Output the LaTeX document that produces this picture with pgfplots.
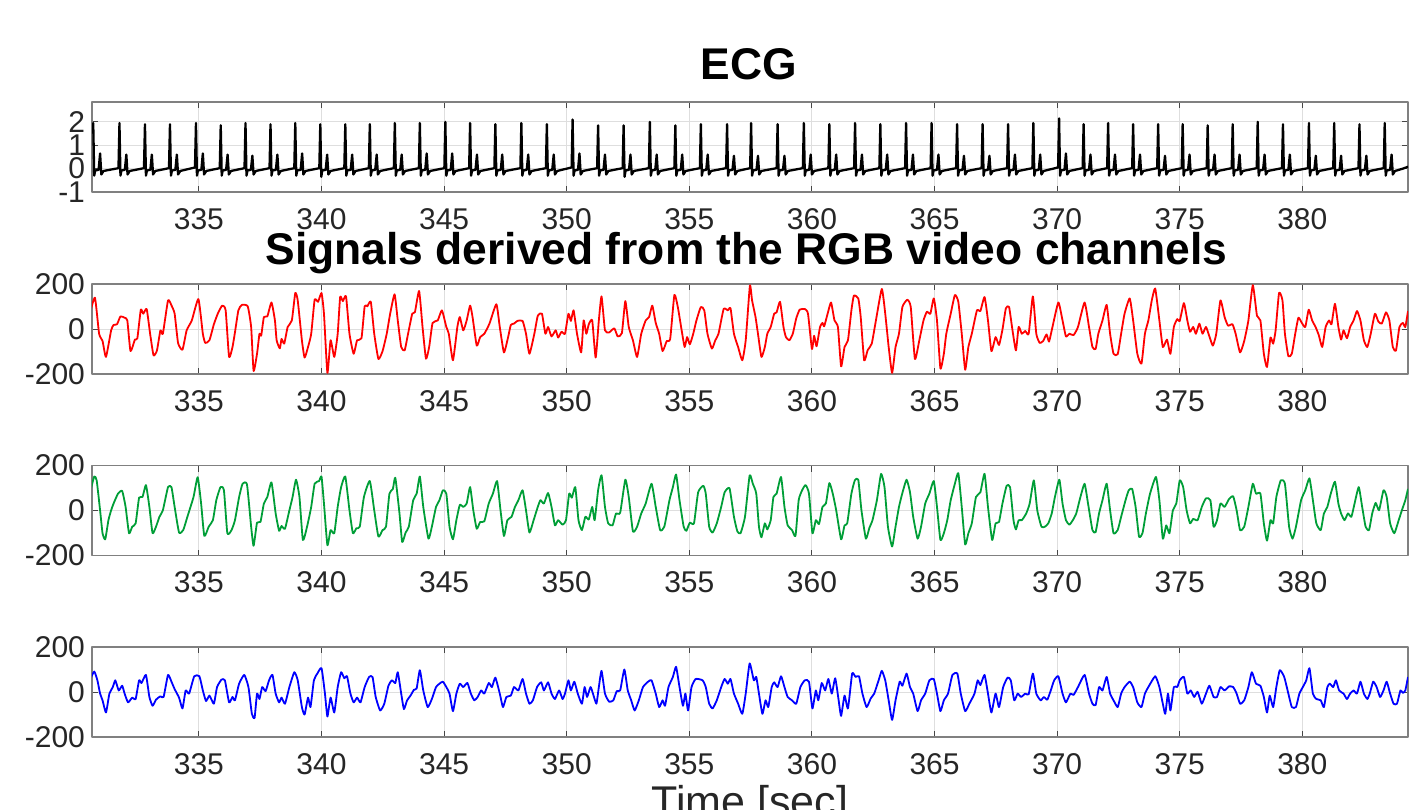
\documentclass[border=0pt]{standalone}
\usepackage{pgfplots}
\pgfplotsset{compat=1.18}
\usepackage{fontspec}
\setmainfont{Liberation Sans}
\definecolor{axgray}{RGB}{128,128,128}
\definecolor{tkgray}{RGB}{70,70,70}
\definecolor{grd}{RGB}{222,222,222}
\definecolor{lbl}{RGB}{38,38,38}
\definecolor{mgreen}{RGB}{0,158,55}
\pgfplotsset{panel/.style={
  scale only axis, width=658pt, height=45pt,
  xmin=330.64, xmax=384.31,
  xtick={335,340,345,350,355,360,365,370,375,380},
  axis line style={draw=axgray, line width=0.6pt},
  tick style={draw=tkgray, line width=0.5pt},
  major tick length=3pt,
  tick align=inside,
  xmajorgrids, ymajorgrids,
  major grid style={draw=grd, line width=0.5pt},
  ticklabel style={font=\fontsize{15}{18}\selectfont, text=lbl},
  /pgf/number format/assume math mode=true,
  xticklabel style={yshift=-4.5pt},
  anchor=north west,
  line join=round,
}}
\begin{document}
\begin{tikzpicture}[x=1pt,y=1pt]
\useasboundingbox (0,0) rectangle (706,-404.5);
% ECG
\begin{axis}[panel, at={(46pt,-51pt)}, ymin=-1, ymax=2.85, ytick={-1,0,1,2}]
\addplot[black, line width=1.15pt] coordinates {
(330.64,1.5)(330.69,1.95)(330.73,-0.3)(330.77,-0.08)(330.91,-0.05)(330.97,0.65)(331.02,-0.25)(331.11,-0.1)
(331.72,0.02)(331.76,1.95)(331.80,-0.3)(331.84,-0.08)(331.98,-0.05)(332.04,0.6)(332.09,-0.25)(332.18,-0.1)
(332.76,0.02)(332.80,1.9)(332.84,-0.3)(332.88,-0.08)(333.02,-0.05)(333.08,0.6)(333.13,-0.25)(333.22,-0.1)
(333.78,0.02)(333.82,1.9)(333.86,-0.3)(333.90,-0.08)(334.04,-0.05)(334.10,0.6)(334.15,-0.25)(334.24,-0.1)
(334.84,0.05)(334.88,1.95)(334.92,-0.3)(334.96,-0.08)(335.10,-0.05)(335.16,0.65)(335.21,-0.25)(335.30,-0.1)
(335.85,0.02)(335.89,1.85)(335.93,-0.3)(335.97,-0.08)(336.11,-0.05)(336.17,0.6)(336.22,-0.25)(336.31,-0.1)
(336.86,0.02)(336.90,1.95)(336.94,-0.3)(336.98,-0.08)(337.12,-0.05)(337.18,0.55)(337.23,-0.25)(337.32,-0.1)
(337.88,0.02)(337.92,1.9)(337.96,-0.3)(338.00,-0.08)(338.14,-0.05)(338.20,0.6)(338.25,-0.25)(338.34,-0.1)
(338.89,0.02)(338.93,1.95)(338.97,-0.3)(339.01,-0.08)(339.15,-0.05)(339.21,0.65)(339.26,-0.25)(339.35,-0.1)
(339.91,0.02)(339.95,1.9)(339.99,-0.35)(340.03,-0.08)(340.17,-0.05)(340.23,0.6)(340.28,-0.25)(340.37,-0.1)
(340.93,0.02)(340.97,1.9)(341.01,-0.3)(341.05,-0.08)(341.19,-0.05)(341.25,0.6)(341.30,-0.25)(341.39,-0.1)
(341.93,0.02)(341.97,1.9)(342.01,-0.3)(342.05,-0.08)(342.19,-0.05)(342.25,0.6)(342.30,-0.25)(342.39,-0.1)
(342.95,0.02)(342.99,1.95)(343.03,-0.3)(343.07,-0.08)(343.21,-0.05)(343.27,0.6)(343.32,-0.25)(343.41,-0.1)
(343.97,0.02)(344.01,1.95)(344.05,-0.3)(344.09,-0.08)(344.23,-0.05)(344.29,0.65)(344.34,-0.25)(344.43,-0.1)
(345.01,0.02)(345.05,2.0)(345.09,-0.3)(345.13,-0.08)(345.27,-0.05)(345.33,0.65)(345.38,-0.25)(345.47,-0.1)
(346.02,0.02)(346.06,1.95)(346.10,-0.3)(346.14,-0.08)(346.28,-0.05)(346.34,0.6)(346.39,-0.25)(346.48,-0.1)
(347.05,0.02)(347.09,1.9)(347.13,-0.3)(347.17,-0.08)(347.31,-0.05)(347.37,0.6)(347.42,-0.25)(347.51,-0.1)
(348.11,0.02)(348.15,1.95)(348.19,-0.3)(348.23,-0.08)(348.37,-0.05)(348.43,0.6)(348.48,-0.25)(348.57,-0.1)
(349.15,0.02)(349.19,1.9)(349.23,-0.3)(349.27,-0.08)(349.41,-0.05)(349.47,0.6)(349.52,-0.25)(349.61,-0.1)
(350.20,0.05)(350.24,2.1)(350.28,-0.3)(350.32,-0.08)(350.46,-0.05)(350.52,0.65)(350.57,-0.25)(350.66,-0.1)
(351.24,0.02)(351.28,1.85)(351.32,-0.3)(351.36,-0.08)(351.50,-0.05)(351.56,0.6)(351.61,-0.25)(351.70,-0.1)
(352.28,0.02)(352.32,1.85)(352.36,-0.35)(352.40,-0.08)(352.54,-0.05)(352.60,0.6)(352.65,-0.25)(352.74,-0.1)
(353.35,0.02)(353.39,2.0)(353.43,-0.3)(353.47,-0.08)(353.61,-0.05)(353.67,0.6)(353.72,-0.25)(353.81,-0.1)
(354.39,0.02)(354.43,1.85)(354.47,-0.3)(354.51,-0.08)(354.65,-0.05)(354.71,0.6)(354.76,-0.25)(354.85,-0.1)
(355.43,0.02)(355.47,1.9)(355.51,-0.3)(355.55,-0.08)(355.69,-0.05)(355.75,0.6)(355.80,-0.25)(355.89,-0.1)
(356.50,0.02)(356.54,1.9)(356.58,-0.3)(356.62,-0.08)(356.76,-0.05)(356.82,0.55)(356.87,-0.25)(356.96,-0.1)
(357.48,0.02)(357.52,1.95)(357.56,-0.3)(357.60,-0.08)(357.74,-0.05)(357.80,0.55)(357.85,-0.25)(357.94,-0.1)
(358.56,0.02)(358.60,1.9)(358.64,-0.3)(358.68,-0.08)(358.82,-0.05)(358.88,0.55)(358.93,-0.25)(359.02,-0.1)
(359.63,0.02)(359.67,1.95)(359.71,-0.3)(359.75,-0.08)(359.89,-0.05)(359.95,0.6)(360.00,-0.25)(360.09,-0.1)
(360.67,0.02)(360.71,1.9)(360.75,-0.3)(360.79,-0.08)(360.93,-0.05)(360.99,0.6)(361.04,-0.25)(361.13,-0.1)
(361.72,0.02)(361.76,1.95)(361.80,-0.3)(361.84,-0.08)(361.98,-0.05)(362.04,0.6)(362.09,-0.25)(362.18,-0.1)
(362.75,0.02)(362.79,1.9)(362.83,-0.3)(362.87,-0.08)(363.01,-0.05)(363.07,0.6)(363.12,-0.25)(363.21,-0.1)
(363.80,0.02)(363.84,1.95)(363.88,-0.3)(363.92,-0.08)(364.06,-0.05)(364.12,0.6)(364.17,-0.25)(364.26,-0.1)
(364.84,0.02)(364.88,1.95)(364.92,-0.3)(364.96,-0.08)(365.10,-0.05)(365.16,0.6)(365.21,-0.25)(365.30,-0.1)
(365.88,0.02)(365.92,1.9)(365.96,-0.3)(366.00,-0.08)(366.14,-0.05)(366.20,0.55)(366.25,-0.25)(366.34,-0.1)
(366.92,0.02)(366.96,1.9)(367.00,-0.3)(367.04,-0.08)(367.18,-0.05)(367.24,0.55)(367.29,-0.25)(367.38,-0.1)
(367.96,0.02)(368.00,1.9)(368.04,-0.3)(368.08,-0.08)(368.22,-0.05)(368.28,0.6)(368.33,-0.25)(368.42,-0.1)
(368.99,0.02)(369.03,1.95)(369.07,-0.3)(369.11,-0.08)(369.25,-0.05)(369.31,0.6)(369.36,-0.25)(369.45,-0.1)
(370.04,0.05)(370.08,2.15)(370.12,-0.3)(370.16,-0.08)(370.30,-0.05)(370.36,0.65)(370.41,-0.25)(370.50,-0.1)
(371.04,0.02)(371.08,1.9)(371.12,-0.3)(371.16,-0.08)(371.30,-0.05)(371.36,0.6)(371.41,-0.25)(371.50,-0.1)
(372.04,0.02)(372.08,1.95)(372.12,-0.3)(372.16,-0.08)(372.30,-0.05)(372.36,0.6)(372.41,-0.25)(372.50,-0.1)
(373.06,0.02)(373.10,1.9)(373.14,-0.3)(373.18,-0.08)(373.32,-0.05)(373.38,0.6)(373.43,-0.25)(373.52,-0.1)
(374.08,0.02)(374.12,1.9)(374.16,-0.3)(374.20,-0.08)(374.34,-0.05)(374.40,0.55)(374.45,-0.25)(374.54,-0.1)
(375.08,0.02)(375.12,1.9)(375.16,-0.3)(375.20,-0.08)(375.34,-0.05)(375.40,0.6)(375.45,-0.25)(375.54,-0.1)
(376.10,0.02)(376.14,1.85)(376.18,-0.3)(376.22,-0.08)(376.36,-0.05)(376.42,0.6)(376.47,-0.25)(376.56,-0.1)
(377.12,0.02)(377.16,1.9)(377.20,-0.3)(377.24,-0.08)(377.38,-0.05)(377.44,0.6)(377.49,-0.25)(377.58,-0.1)
(378.14,0.02)(378.18,2.0)(378.22,-0.3)(378.26,-0.08)(378.40,-0.05)(378.46,0.6)(378.51,-0.25)(378.60,-0.1)
(379.17,0.02)(379.21,1.9)(379.25,-0.3)(379.29,-0.08)(379.43,-0.05)(379.49,0.6)(379.54,-0.25)(379.63,-0.1)
(380.23,0.02)(380.27,1.95)(380.31,-0.3)(380.35,-0.08)(380.49,-0.05)(380.55,0.55)(380.60,-0.25)(380.69,-0.1)
(381.26,0.02)(381.30,1.95)(381.34,-0.3)(381.38,-0.08)(381.52,-0.05)(381.58,0.55)(381.63,-0.25)(381.72,-0.1)
(382.29,0.02)(382.33,1.9)(382.37,-0.3)(382.41,-0.08)(382.55,-0.05)(382.61,0.55)(382.66,-0.25)(382.75,-0.1)
(383.32,0.02)(383.36,1.95)(383.40,-0.3)(383.44,-0.08)(383.58,-0.05)(383.64,0.6)(383.69,-0.25)(383.78,-0.1)
(384.10,0.0)(384.31,0.08)
};
\end{axis}
% RED
\begin{axis}[panel, at={(46pt,-142pt)}, ymin=-200, ymax=200, ytick={-200,0,200}]
\addplot[red, line width=0.9pt, smooth, tension=0.3] coordinates {
(330.55,68)(330.76,139)(330.93,-21)(331.07,-53)(331.21,-124)(331.42,-6)(331.52,18)(331.66,21)(331.80,56)(331.97,50)(332.08,38)(332.21,-98)(332.39,-47)(332.49,-41)(332.63,86)(332.73,68)(332.87,89)(333.01,-21)(333.15,-117)(333.29,-95)(333.43,-6)(333.53,-21)(333.74,127)(333.88,105)(334.01,68)(334.15,-62)(334.33,-92)(334.50,-6)(334.71,38)(334.98,133)(335.16,-21)(335.26,-62)(335.43,-50)(335.61,21)(335.78,71)(335.95,104)(336.09,83)(336.23,-124)(336.37,-80)(336.47,-15)(336.61,83)(336.75,107)(336.99,101)(337.13,9)(337.23,-186)(337.37,-110)(337.47,-21)(337.54,-30)(337.65,53)(337.79,56)(337.96,118)(338.10,38)(338.17,-50)(338.30,-86)(338.37,-44)(338.48,-65)(338.62,9)(338.79,38)(338.93,160)(339.03,127)(339.20,-50)(339.31,-127)(339.45,-80)(339.58,-21)(339.72,130)(339.86,121)(340.00,160)(340.10,68)(340.24,-195)(340.37,-50)(340.52,-124)(340.66,-21)(340.76,142)(340.87,124)(341.00,145)(341.14,-21)(341.31,-110)(341.45,-50)(341.63,-41)(341.76,101)(341.87,101)(342.01,121)(342.15,-21)(342.32,-133)(342.49,-98)(342.66,-21)(342.80,68)(342.98,154)(343.11,38)(343.25,-80)(343.39,-95)(343.53,-21)(343.70,68)(343.81,75)(343.98,169)(344.12,9)(344.26,-132)(344.39,-80)(344.53,27)(344.74,38)(344.91,83)(345.09,9)(345.19,-21)(345.36,-139)(345.54,9)(345.64,53)(345.78,-6)(345.92,38)(346.06,104)(346.16,53)(346.33,-74)(346.47,-36)(346.64,-21)(346.85,24)(347.13,110)(347.27,9)(347.44,-104)(347.61,-36)(347.72,18)(347.85,24)(347.99,36)(348.20,36)(348.34,-21)(348.48,-110)(348.68,-21)(348.82,59)(348.99,68)(349.13,-21)(349.24,9)(349.38,-33)(349.55,-6)(349.65,-38)(349.79,-12)(349.93,-21)(350.07,68)(350.17,36)(350.28,83)(350.42,-21)(350.59,-104)(350.69,38)(350.80,-21)(350.90,21)(351.04,38)(351.18,-127)(351.31,38)(351.42,145)(351.56,-6)(351.73,-15)(351.94,3)(352.08,-33)(352.25,-18)(352.39,124)(352.53,9)(352.70,-50)(352.87,-124)(353.04,-21)(353.22,38)(353.36,53)(353.49,104)(353.63,27)(353.77,-21)(353.91,-98)(354.08,-53)(354.22,-44)(354.39,151)(354.53,98)(354.71,-21)(354.81,-80)(354.91,-36)(355.02,-68)(355.16,-21)(355.29,38)(355.47,98)(355.61,83)(355.74,-21)(355.92,-87)(356.06,-50)(356.19,-21)(356.40,89)(356.57,83)(356.68,92)(356.82,-21)(356.99,-80)(357.16,-139)(357.30,-50)(357.47,192)(357.56,127)(357.70,53)(357.80,-21)(357.94,-124)(358.08,-80)(358.18,-21)(358.32,9)(358.46,68)(358.56,74)(358.70,121)(358.84,9)(358.94,-36)(359.08,-50)(359.22,-21)(359.36,47)(359.50,86)(359.71,89)(359.84,68)(360.00,-89)(360.09,-30)(360.19,-77)(360.33,9)(360.43,27)(360.50,12)(360.64,68)(360.78,118)(360.92,38)(361.06,9)(361.19,-166)(361.33,-80)(361.47,-50)(361.61,83)(361.71,148)(361.89,136)(361.99,53)(362.13,-139)(362.27,-95)(362.44,-65)(362.61,38)(362.85,178)(362.99,68)(363.13,-80)(363.27,-195)(363.41,-80)(363.55,-21)(363.69,98)(363.89,130)(364.03,98)(364.20,-133)(364.38,-50)(364.55,38)(364.69,77)(364.83,68)(364.97,136)(365.10,38)(365.24,-175)(365.38,-110)(365.48,-21)(365.66,68)(365.83,151)(365.97,121)(366.11,-21)(366.25,-181)(366.38,-80)(366.52,-21)(366.73,83)(366.87,80)(367.04,142)(367.18,38)(367.32,-98)(367.49,-36)(367.63,-71)(367.77,-3)(367.91,92)(368.04,98)(368.18,-6)(368.32,-95)(368.43,9)(368.56,-21)(368.70,-9)(368.84,-21)(369.01,145)(369.15,-21)(369.29,-62)(369.43,-53)(369.57,-24)(369.67,-56)(369.81,9)(370.05,118)(370.22,38)(370.36,-33)(370.50,-21)(370.67,-27)(370.85,9)(371.12,118)(371.30,9)(371.44,-80)(371.57,-89)(371.68,-21)(371.85,38)(372.02,107)(372.16,-21)(372.30,-110)(372.47,-112)(372.61,-21)(372.75,68)(372.96,136)(373.10,38)(373.27,-110)(373.44,-154)(373.58,-21)(373.72,38)(373.86,127)(374.00,180)(374.17,38)(374.31,-80)(374.48,-47)(374.62,-110)(374.76,9)(374.90,44)(375.00,36)(375.17,115)(375.31,38)(375.42,-12)(375.55,9)(375.66,-21)(375.80,24)(375.93,-21)(376.07,9)(376.21,-33)(376.35,-74)(376.49,-21)(376.66,127)(376.83,53)(376.97,15)(377.15,21)(377.28,-21)(377.46,-104)(377.63,-53)(377.80,38)(377.98,195)(378.15,59)(378.29,38)(378.43,-110)(378.56,-169)(378.70,-38)(378.81,-65)(378.91,-6)(379.05,160)(379.19,127)(379.29,-21)(379.43,-121)(379.57,-110)(379.71,-21)(379.84,50)(379.98,27)(380.12,9)(380.26,86)(380.40,38)(380.54,9)(380.67,-27)(380.81,-80)(380.95,9)(381.09,38)(381.19,21)(381.33,112)(381.47,9)(381.58,-47)(381.68,-6)(381.82,-41)(381.95,9)(382.09,38)(382.23,80)(382.37,38)(382.51,-50)(382.65,-80)(382.79,-21)(382.96,68)(383.10,33)(383.24,24)(383.41,74)(383.55,38)(383.69,-80)(383.82,-95)(383.96,9)(384.10,27)(384.20,9)(384.31,80)
};
\end{axis}
% GREEN
\begin{axis}[panel, at={(46pt,-232.75pt)}, ymin=-200, ymax=200, ytick={-200,0,200}]
\addplot[mgreen, line width=0.9pt, smooth, tension=0.3] coordinates {
(330.55,75)(330.73,151)(330.83,134)(330.97,1)(331.07,-101)(331.18,-128)(331.31,-43)(331.42,1)(331.52,31)(331.70,75)(331.87,87)(332.01,16)(332.15,-101)(332.28,-72)(332.42,-57)(332.56,57)(332.70,60)(332.84,113)(332.98,16)(333.11,-101)(333.25,-72)(333.39,-28)(333.53,1)(333.74,104)(333.88,104)(334.01,16)(334.19,-98)(334.36,-87)(334.53,-28)(334.78,60)(334.95,148)(335.09,31)(335.22,-113)(335.40,-72)(335.57,-43)(335.71,46)(335.88,104)(336.02,90)(336.16,-101)(336.33,-87)(336.47,-43)(336.64,60)(336.78,119)(336.96,116)(337.13,-72)(337.23,-157)(337.37,-54)(337.51,-51)(337.65,31)(337.79,60)(337.96,125)(338.13,-13)(338.27,-90)(338.37,-69)(338.51,-81)(338.69,1)(338.82,60)(338.96,137)(339.10,60)(339.24,-131)(339.41,-72)(339.58,16)(339.72,119)(339.90,131)(340.00,151)(340.10,31)(340.24,-154)(340.37,-87)(340.52,-101)(340.66,16)(340.80,104)(340.97,151)(341.14,1)(341.28,-101)(341.42,-79)(341.56,-72)(341.73,60)(341.97,131)(342.15,1)(342.32,-116)(342.49,-87)(342.63,-72)(342.77,75)(342.91,96)(343.01,146)(343.18,-13)(343.29,-140)(343.43,-98)(343.56,-72)(343.74,46)(343.88,75)(344.01,151)(344.15,16)(344.36,-125)(344.50,-72)(344.67,16)(344.81,46)(344.95,90)(345.09,75)(345.22,-72)(345.36,-128)(345.50,-43)(345.64,25)(345.78,16)(345.92,31)(346.06,104)(346.19,1)(346.33,-81)(346.47,-51)(346.64,-48)(346.82,31)(346.99,75)(347.16,131)(347.30,1)(347.44,-113)(347.58,-43)(347.75,-28)(347.89,16)(348.03,46)(348.20,90)(348.34,1)(348.48,-98)(348.65,-43)(348.82,16)(348.93,46)(349.07,31)(349.24,78)(349.38,16)(349.52,-66)(349.65,-43)(349.83,-63)(349.97,-43)(350.10,75)(350.21,57)(350.35,104)(350.48,-43)(350.62,-87)(350.76,-28)(350.90,-40)(351.04,16)(351.14,-43)(351.28,90)(351.42,157)(351.56,16)(351.69,-57)(351.87,-66)(352.01,-13)(352.18,-10)(352.39,137)(352.53,60)(352.70,-93)(352.87,-72)(353.04,-13)(353.22,31)(353.46,119)(353.63,16)(353.81,-87)(353.98,-72)(354.19,46)(354.33,104)(354.46,160)(354.60,46)(354.77,-72)(354.88,-90)(355.02,-54)(355.19,-57)(355.36,81)(355.57,110)(355.67,75)(355.81,-72)(355.95,-98)(356.12,-57)(356.30,16)(356.44,81)(356.64,99)(356.82,-28)(356.96,-93)(357.09,-101)(357.27,-28)(357.46,156)(357.59,119)(357.73,75)(357.84,-72)(357.94,-119)(358.08,-57)(358.18,-84)(358.32,-43)(358.43,60)(358.56,75)(358.74,149)(358.88,16)(359.01,-66)(359.19,-87)(359.33,-113)(359.46,46)(359.60,90)(359.74,113)(359.88,75)(360.02,-101)(360.16,-43)(360.29,-60)(360.43,16)(360.57,31)(360.71,122)(360.85,75)(360.99,1)(361.19,-128)(361.33,-66)(361.44,-57)(361.61,75)(361.75,134)(361.89,137)(362.02,1)(362.20,-125)(362.34,-78)(362.47,-43)(362.65,46)(362.82,163)(362.96,104)(363.10,-72)(363.27,-160)(363.41,-72)(363.55,16)(363.69,78)(363.86,137)(364.00,81)(364.13,-28)(364.31,-125)(364.45,-72)(364.62,31)(364.79,75)(364.97,131)(365.10,16)(365.24,-131)(365.38,-101)(365.52,-43)(365.66,46)(365.83,119)(365.97,166)(366.11,16)(366.25,-151)(366.38,-101)(366.52,-57)(366.69,60)(366.87,81)(367.04,163)(367.18,16)(367.35,-131)(367.49,-57)(367.63,-51)(367.77,31)(367.94,110)(368.08,104)(368.22,-43)(368.32,-84)(368.43,-43)(368.56,-43)(368.74,-13)(368.88,31)(369.05,134)(369.19,1)(369.36,-72)(369.50,-72)(369.64,-57)(369.78,-13)(369.91,60)(370.09,137)(370.22,31)(370.36,-43)(370.50,-63)(370.64,-43)(370.78,-13)(370.95,60)(371.12,119)(371.26,31)(371.44,-87)(371.57,-96)(371.71,-13)(371.85,46)(372.02,119)(372.16,1)(372.30,-101)(372.47,-87)(372.61,-28)(372.79,46)(372.92,90)(373.06,96)(373.20,16)(373.34,-116)(373.48,-101)(373.62,-13)(373.79,75)(374.03,149)(374.17,46)(374.31,-125)(374.45,-66)(374.58,-101)(374.72,1)(374.86,31)(375.00,134)(375.14,104)(375.28,1)(375.42,-57)(375.55,-37)(375.73,-43)(375.90,16)(376.07,54)(376.25,46)(376.38,-72)(376.52,-43)(376.66,31)(376.83,16)(377.01,51)(377.18,63)(377.32,1)(377.46,-87)(377.63,-72)(377.80,16)(377.98,119)(378.11,75)(378.29,75)(378.43,-57)(378.56,-134)(378.70,-43)(378.81,-57)(378.94,60)(379.12,134)(379.29,119)(379.46,-72)(379.60,-125)(379.74,-72)(379.95,46)(380.12,90)(380.29,143)(380.43,46)(380.57,-57)(380.75,-87)(380.88,-13)(381.02,16)(381.16,75)(381.33,128)(381.47,31)(381.58,-13)(381.72,-43)(381.86,-13)(382.00,-28)(382.13,31)(382.30,104)(382.44,16)(382.58,-72)(382.72,-87)(382.85,-13)(382.99,34)(383.13,1)(383.31,90)(383.44,60)(383.58,-57)(383.75,-101)(383.93,-43)(384.06,1)(384.20,46)(384.31,96)
};
\end{axis}
% BLUE
\begin{axis}[panel, at={(46pt,-323.5pt)}, ymin=-200, ymax=200, ytick={-200,0,200}]
\addplot[blue, line width=0.9pt, smooth, tension=0.3] coordinates {
(330.55,52)(330.73,91)(330.86,52)(330.97,-7)(331.07,-37)(331.21,-91)(331.35,-7)(331.49,22)(331.59,52)(331.73,7)(331.87,28)(331.97,-7)(332.11,-46)(332.28,-25)(332.42,-31)(332.56,52)(332.66,40)(332.84,76)(332.98,-22)(333.11,-61)(333.25,-34)(333.43,-19)(333.56,-22)(333.74,76)(333.88,46)(334.01,13)(334.19,-25)(334.33,-73)(334.46,7)(334.60,-7)(334.81,70)(335.02,70)(335.16,7)(335.29,-40)(335.43,-16)(335.61,-52)(335.74,22)(335.92,55)(336.06,52)(336.23,-46)(336.37,-22)(336.47,-37)(336.64,37)(336.85,76)(337.02,22)(337.16,-97)(337.27,-115)(337.37,-7)(337.47,-31)(337.58,22)(337.72,4)(337.86,52)(338.00,76)(338.13,-7)(338.27,-46)(338.37,-25)(338.51,-52)(338.69,22)(338.89,88)(339.03,52)(339.20,-67)(339.31,-100)(339.45,-25)(339.55,-67)(339.69,52)(339.83,82)(340.00,106)(340.14,-7)(340.24,-109)(340.37,-25)(340.52,-91)(340.66,22)(340.80,88)(340.93,61)(341.04,70)(341.18,-7)(341.31,-46)(341.45,-25)(341.59,-46)(341.76,22)(341.94,67)(342.08,67)(342.21,-22)(342.39,-82)(342.56,-52)(342.73,28)(342.87,52)(343.01,40)(343.11,88)(343.25,-7)(343.36,-76)(343.49,-37)(343.63,-16)(343.77,10)(343.88,16)(344.01,97)(344.15,7)(344.33,-67)(344.50,-31)(344.67,22)(344.81,37)(344.95,46)(345.09,22)(345.22,-7)(345.36,-85)(345.50,-7)(345.64,37)(345.78,22)(345.95,40)(346.09,-7)(346.23,-37)(346.37,-22)(346.51,7)(346.64,-7)(346.82,40)(346.95,22)(347.09,64)(347.27,-7)(347.40,-67)(347.54,-22)(347.72,-16)(347.85,22)(348.03,7)(348.20,58)(348.34,-7)(348.48,-52)(348.62,-37)(348.79,22)(348.96,43)(349.07,7)(349.24,43)(349.38,-7)(349.52,-31)(349.69,7)(349.83,-31)(349.93,-7)(350.07,52)(350.17,7)(350.31,46)(350.45,-7)(350.62,-52)(350.73,22)(350.83,-22)(350.97,22)(351.07,-7)(351.21,-52)(351.31,22)(351.42,94)(351.56,-7)(351.73,-43)(351.90,-37)(352.04,4)(352.18,7)(352.35,100)(352.49,7)(352.63,-37)(352.77,-82)(352.94,-37)(353.11,22)(353.32,46)(353.46,52)(353.63,-7)(353.77,-67)(353.91,-37)(354.01,-61)(354.15,22)(354.33,67)(354.46,112)(354.60,22)(354.74,-61)(354.84,-7)(354.95,-82)(355.09,22)(355.26,58)(355.54,52)(355.67,22)(355.81,-52)(355.95,-73)(356.12,-37)(356.30,22)(356.44,58)(356.57,37)(356.68,58)(356.82,-7)(356.99,-52)(357.16,-97)(357.30,-7)(357.46,127)(357.63,52)(357.73,67)(357.84,-7)(357.98,-97)(358.11,-37)(358.22,-67)(358.36,22)(358.46,43)(358.60,22)(358.74,70)(358.88,22)(359.01,-22)(359.19,-37)(359.36,-52)(359.53,22)(359.71,52)(359.88,46)(360.02,-73)(360.16,7)(360.26,-37)(360.40,40)(360.54,7)(360.67,58)(360.81,-7)(360.95,61)(361.09,-37)(361.19,-106)(361.33,-16)(361.47,-73)(361.64,82)(361.78,67)(361.92,70)(362.06,-7)(362.23,-67)(362.40,-28)(362.54,-7)(362.72,52)(362.85,94)(362.99,52)(363.13,-37)(363.27,-124)(363.41,-37)(363.58,46)(363.69,28)(363.86,82)(364.00,22)(364.13,-7)(364.31,-85)(364.45,-37)(364.62,-7)(364.79,52)(364.97,58)(365.10,-7)(365.24,-85)(365.38,-37)(365.55,-7)(365.73,76)(365.93,82)(366.07,-7)(366.25,-85)(366.42,-52)(366.63,-7)(366.76,52)(366.87,31)(367.04,76)(367.18,-7)(367.32,-91)(367.49,-7)(367.63,-67)(367.80,22)(367.98,64)(368.11,52)(368.25,-37)(368.39,-7)(368.53,-22)(368.70,-7)(368.84,-10)(369.01,82)(369.15,-7)(369.33,-37)(369.46,-22)(369.60,-34)(369.74,7)(369.88,52)(370.05,70)(370.22,-7)(370.36,-46)(370.54,-7)(370.67,-13)(370.85,22)(371.12,76)(371.30,-7)(371.44,-52)(371.57,-58)(371.71,22)(371.85,7)(372.02,67)(372.16,-7)(372.30,-37)(372.47,-67)(372.61,-7)(372.75,22)(372.96,46)(373.10,22)(373.27,-46)(373.44,-67)(373.58,-7)(373.72,22)(374.00,70)(374.17,22)(374.31,-52)(374.41,-97)(374.52,-7)(374.62,-82)(374.76,22)(374.90,22)(375.00,52)(375.17,67)(375.31,-7)(375.45,7)(375.59,-22)(375.73,1)(375.90,-52)(376.07,-7)(376.21,28)(376.38,-22)(376.52,-22)(376.66,22)(376.83,7)(377.01,25)(377.18,22)(377.32,-7)(377.46,-52)(377.63,-37)(377.80,22)(377.94,88)(378.11,37)(378.29,28)(378.43,-22)(378.56,-91)(378.67,-16)(378.81,-67)(378.94,22)(379.08,97)(379.26,67)(379.43,-7)(379.57,-67)(379.74,-67)(379.88,-7)(380.02,22)(380.16,52)(380.29,106)(380.43,-7)(380.57,-31)(380.75,-37)(380.88,-67)(381.02,22)(381.12,37)(381.26,22)(381.37,52)(381.50,7)(381.68,-7)(381.82,-31)(381.95,-7)(382.09,7)(382.23,-7)(382.37,46)(382.51,-7)(382.65,-31)(382.75,-7)(382.89,46)(383.03,22)(383.17,-22)(383.31,7)(383.44,46)(383.58,-7)(383.72,-52)(383.86,-52)(384.00,7)(384.10,-4)(384.20,7)(384.31,67)
};
\end{axis}
\node[anchor=base, font=\fontsize{22.2}{26}\selectfont\bfseries] at (374.5,-39.65) {ECG};
\node[anchor=base, font=\fontsize{22.2}{26}\selectfont\bfseries] at (373.25,-132) {Signals derived from the RGB video channels};
\node[anchor=base, font=\fontsize{21.5}{25}\selectfont, text=lbl] at (375,-408) {Time [sec]};
\end{tikzpicture}
\end{document}
